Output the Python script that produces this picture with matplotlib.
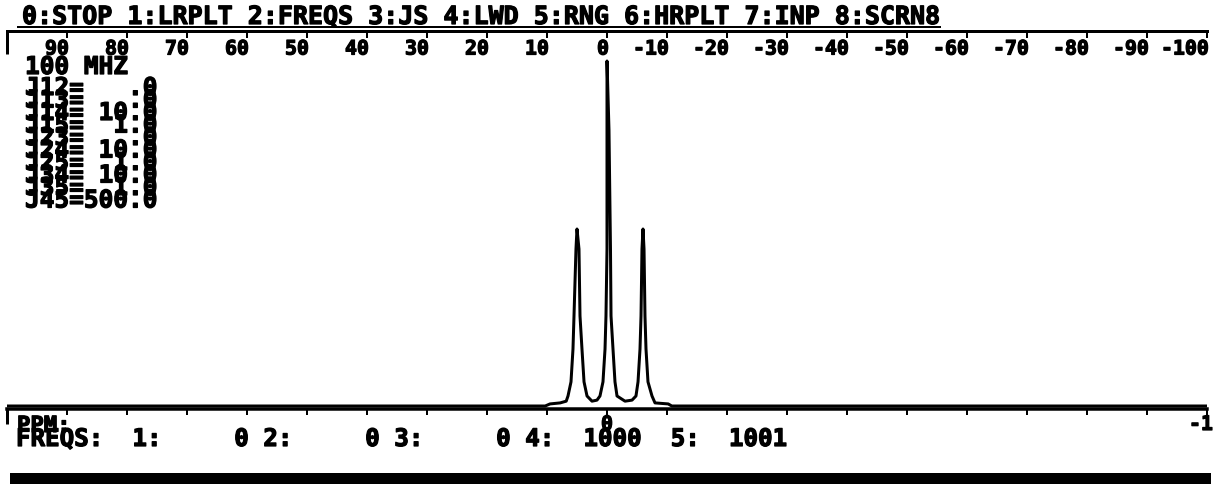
import matplotlib
matplotlib.use("Agg")
import matplotlib.pyplot as plt
import matplotlib.transforms as mtransforms
import matplotlib.patheffects as pe
from matplotlib.patches import Rectangle
from matplotlib.lines import Line2D

W, H = 1215, 489

# ---------------- data ----------------
menu_text = "0:STOP 1:LRPLT 2:FREQS 3:JS 4:LWD 5:RNG 6:HRPLT 7:INP 8:SCRN8"
field_label = "100 MHZ"
hz_ticks = [90, 80, 70, 60, 50, 40, 30, 20, 10, 0,
            -10, -20, -30, -40, -50, -60, -70, -80, -90, -100]
hz_labels = ["90", "80", "70", "60", "50", "40", "30", "20", "10", "0",
             "-10", "-20", "-30", "-40", "-50", "-60", "-70", "-80", "-90", "-100"]
ppm_labels = ["", "", "", "", "", "", "", "", "", "0",
              "", "", "", "", "", "", "", "", "", "-1"]
j_names = ["J12", "J13", "J14", "J15", "J23", "J24", "J25", "J34", "J35", "J45"]
j_values = [0.0, 0.0, 10.0, 1.0, 0.0, 10.0, 1.0, 10.0, 1.0, 500.0]
freq_ids = [1, 2, 3, 4, 5]
freq_values = [0, 0, 0, 1000, 1001]

# spectrum trace (Hz, relative intensity)
spec_hz = [100, 10.3, 9.5, 7.8, 6.8, 6.5, 6.0, 5.67, 5.5, 5.17, 5.0, 4.67, 4.5,
           4.17, 3.83, 3.33, 2.5, 1.67, 1.17, 0.67, 0.33, 0.17, 0.0, 0.0, 0.0,
           -0.33, -0.58, -0.67, -1.0, -1.33, -1.67, -3.0, -4.17, -4.83, -5.17,
           -5.5, -5.67, -5.83, -6.0, -6.17, -6.33, -6.5, -6.83, -7.5, -8.0,
           -10.2, -10.8, -100]
spec_int = [0.0, 0.0, 0.006, 0.009, 0.014, 0.029, 0.070, 0.165, 0.261, 0.455,
            0.513, 0.455, 0.261, 0.165, 0.070, 0.029, 0.014, 0.017, 0.029,
            0.070, 0.165, 0.261, 0.455, 0.80, 1.0, 0.80, 0.455, 0.261, 0.165,
            0.070, 0.029, 0.014, 0.017, 0.029, 0.070, 0.165, 0.261, 0.455,
            0.513, 0.455, 0.261, 0.165, 0.070, 0.029, 0.009, 0.006, 0.0, 0.0]

# ---------------- style ----------------
plt.rcParams["font.family"] = ["DejaVu Sans Mono", "Liberation Mono"]
plt.rcParams["font.weight"] = "bold"

fig = plt.figure(figsize=(W / 100, H / 100), dpi=100)
fig.patch.set_facecolor("white")

PT = 72 / 100  # points per pixel
heavy = [pe.withStroke(linewidth=0.9, foreground="black")]


def fx(x):
    return x / W


def fy(y):
    return 1 - y / H


# axes geometry in pixels
x_left, x_right = 7, 1207      # +100 Hz .. -100 Hz
y_top, y_bot = 32, 410         # top spine, bottom spine
y_base, y_peak = 407, 62       # intensity 0 and 1
ax = fig.add_axes([fx(x_left), fy(y_bot), (x_right - x_left) / W, (y_bot - y_top) / H])
ax.set_xlim(100, -100)
ax.set_ylim((y_base - y_bot) / (y_base - y_peak), (y_base - y_top) / (y_base - y_peak))
ax.set_facecolor("none")

ax.plot(spec_hz, spec_int, color="black", lw=3 * PT, solid_joinstyle="round")

for s in ["left", "right", "top"]:
    ax.spines[s].set_visible(False)
ax.spines["bottom"].set_linewidth(3.5 * PT)
ax.set_yticks([])
ax.set_xticks(hz_ticks, labels=ppm_labels)
ax.set_xticks([100], minor=True)
ax.tick_params(axis="x", which="major", direction="out", length=6 * PT,
               width=2 * PT, pad=0, labelsize=14.3, colors="black")
ax.tick_params(axis="x", which="minor", direction="out", length=15 * PT, width=3 * PT)
for lab in ax.get_xticklabels():
    lab.set_path_effects(heavy)
last = ax.get_xticklabels()[-1]
last.set_transform(last.get_transform() +
                   mtransforms.ScaledTranslation(-6 / 100, 0, fig.dpi_scale_trans))

ax2 = ax.twiny()
ax2.set_xlim(100, -100)
for s in ["left", "right", "bottom"]:
    ax2.spines[s].set_visible(False)
ax2.spines["top"].set_linewidth(3 * PT)
ax2.set_xticks(hz_ticks, labels=hz_labels)
ax2.set_xticks([100], minor=True)
ax2.tick_params(axis="x", which="major", direction="in", length=7 * PT, width=2 * PT,
                pad=-27.5 * PT, labelsize=14.3)
ax2.tick_params(axis="x", which="minor", direction="in", length=23 * PT, width=3 * PT)
offset = mtransforms.ScaledTranslation(2 / 100, 0, fig.dpi_scale_trans)
for lab in ax2.get_xticklabels():
    lab.set_horizontalalignment("right")
    lab.set_transform(lab.get_transform() + offset)
    lab.set_path_effects(heavy)

# ---------------- texts ----------------
t = fig.text(fx(22), fy(25), menu_text, fontsize=18, va="baseline", ha="left")
t.set_path_effects(heavy)
fig.add_artist(Line2D([fx(18), fx(940)], [fy(27.5), fy(27.5)], color="black", lw=2 * PT))

t = fig.text(fx(25), fy(75), field_label, fontsize=17.6, va="baseline", ha="left")
t.set_path_effects(heavy)
y0, step = 96, 12.5
for i, (n, v) in enumerate(zip(j_names, j_values)):
    val = ".0" if v == 0 else f"{v:.1f}"
    t = fig.text(fx(25), fy(y0 + i * step), f"{n}={val:>5}", fontsize=17.6,
                 va="baseline", ha="left")
    t.set_path_effects(heavy)

t = fig.text(fx(17), fy(433), "PPM:", fontsize=16, va="baseline", ha="left")
t.set_path_effects(heavy)
parts = []
for i, v in zip(freq_ids, freq_values):
    sep = " " if v == 0 else "  "
    parts.append(f"{i}:{v:>6}{sep}")
freq_line = "FREQS:  " + "".join(parts).rstrip()
t = fig.text(fx(16), fy(447), freq_line, fontsize=17.4, va="baseline", ha="left")
t.set_path_effects(heavy)

fig.add_artist(Rectangle((fx(10), fy(485)), fx(1211) - fx(10), (485 - 474) / H,
                         transform=fig.transFigure, color="black", lw=0))

fig.savefig("out.png", dpi=100, facecolor="white")
